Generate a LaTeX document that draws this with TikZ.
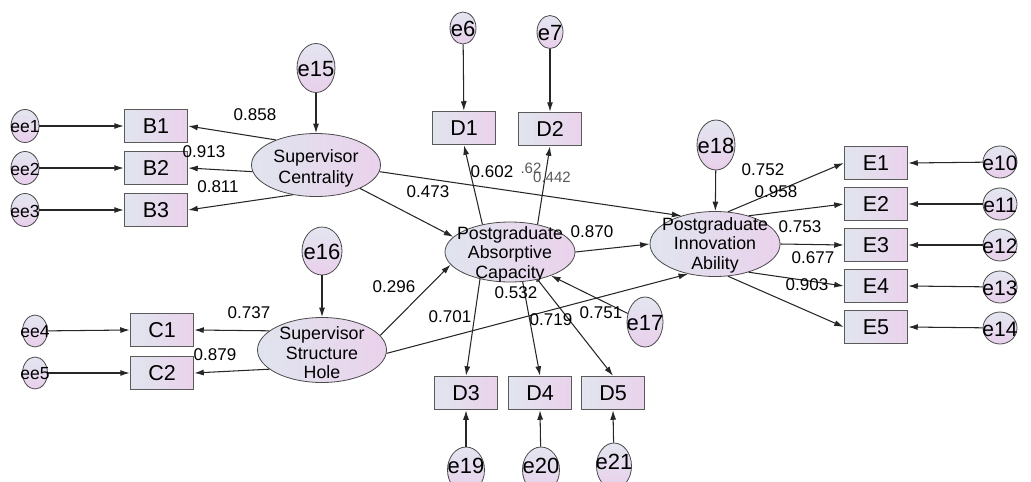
\documentclass[tikz,border=0pt]{standalone}
\usepackage{fontspec}
\setmainfont{Liberation Sans}
\usetikzlibrary{arrows.meta,shapes.geometric}
\definecolor{boxL}{HTML}{E1E5EE}
\definecolor{boxR}{HTML}{EAD2EC}
\definecolor{errT}{HTML}{E3E6F0}
\definecolor{errB}{HTML}{E9CFEB}
\definecolor{latL}{HTML}{E0E4EE}
\definecolor{latR}{HTML}{EAD2EC}
\definecolor{boxline}{HTML}{5A5A5A}
\definecolor{elline}{HTML}{4A4A4A}
\definecolor{lncol}{HTML}{262626}
\begin{document}
\begin{tikzpicture}[x=1pt,y=-1pt,
  obs/.style={draw=boxline, line width=1.5pt, left color=boxL, right color=boxR,
    minimum width=63pt, minimum height=33pt, inner sep=0pt, font=\fontsize{21.5}{25}\selectfont},
  err/.style={ellipse, draw=elline, line width=0.8pt, top color=errT, bottom color=errB, inner sep=0pt},
  errtxt/.style={inner sep=0pt, font=\fontsize{22}{26}\selectfont},
  eetxt/.style={inner sep=0pt, font=\fontsize{17.5}{20}\selectfont},
  lat/.style={ellipse, draw=elline, line width=0.8pt, left color=latL, right color=latR,
    minimum width=129pt, minimum height=63pt, inner sep=0pt},
  lattxt/.style={inner sep=0pt, align=center, font=\fontsize{17.8}{19.5}\selectfont},
  arr/.style={draw=lncol, line width=1.05pt, -{Latex[length=9.5pt,width=6pt]}},
  coef/.style={inner sep=0pt, font=\fontsize{17}{20}\selectfont},
  gcoef/.style={inner sep=0pt, text=black!65, font=\fontsize{15}{18}\selectfont},
]
\useasboundingbox (0,0) rectangle (1031,482);

% ---------- left error terms ----------
\node[err, minimum width=28pt, minimum height=33pt] (ee1) at (25,126) {};
\node[err, minimum width=28pt, minimum height=33pt] (ee2) at (25,168) {};
\node[err, minimum width=28pt, minimum height=33pt] (ee3) at (25,210) {};
\node[err, minimum width=25pt, minimum height=32pt] (ee4) at (35,331) {};
\node[err, minimum width=25pt, minimum height=32pt] (ee5) at (35,373) {};
\node[eetxt] (ee1t) at (25,127) {ee1};
\node[eetxt] (ee2t) at (25,169) {ee2};
\node[eetxt] (ee3t) at (25,211) {ee3};
\node[eetxt] (ee4t) at (35,332) {ee4};
\node[eetxt] (ee5t) at (35,374) {ee5};

% ---------- observed boxes ----------
\node[obs] (B1) at (156,126) {B1};
\node[obs] (B2) at (156,168) {B2};
\node[obs] (B3) at (156,210) {B3};
\node[obs] (C1) at (162,330) {C1};
\node[obs] (C2) at (162,373) {C2};
\node[obs] (D1) at (464,128) {D1};
\node[obs] (D2) at (550,129) {D2};
\node[obs] (D3) at (466,393) {D3};
\node[obs] (D4) at (540,393) {D4};
\node[obs] (D5) at (613,393) {D5};
\node[obs] (E1) at (876,163) {E1};
\node[obs] (E2) at (876,204) {E2};
\node[obs] (E3) at (876,245) {E3};
\node[obs] (E4) at (876,286) {E4};
\node[obs] (E5) at (876,327) {E5};

% ---------- latent variables ----------
\node[lat] (SC) at (316,165) {};
\node[lat, minimum height=65pt] (SSH) at (322,350) {};
\node[lat, minimum width=130pt, minimum height=60pt] (PAC) at (510,252) {};
\node[lat, minimum width=130pt, minimum height=65pt] (PIA) at (715,244) {};
\node[lattxt, font=\fontsize{17.8}{21}\selectfont] (SCt) at (316,168) {Supervisor\\Centrality};
\node[lattxt] (SSHt) at (322,353) {Supervisor\\Structure\\Hole};
\node[lattxt] (PACt) at (510,254) {Postgraduate\\Absorptive\\Capacity};
\node[lattxt] (PIAt) at (715,245) {Postgraduate\\Innovation\\Ability};

% ---------- other error terms ----------
\node[err, minimum width=38pt, minimum height=49pt] (e15) at (316,68) {};
\node[err, minimum width=40pt, minimum height=48pt] (e16) at (322,251) {};
\node[err, minimum width=26pt, minimum height=32pt] (e6) at (463,28) {};
\node[err, minimum width=26pt, minimum height=33pt] (e7) at (550,32) {};
\node[err, minimum width=38pt, minimum height=50pt] (e18) at (716,145) {};
\node[err, minimum width=36pt, minimum height=50pt] (e17) at (645,322) {};
\node[err, minimum width=37pt, minimum height=46pt] (e19) at (466,470) {};
\node[err, minimum width=37pt, minimum height=46pt] (e20) at (541,470) {};
\node[err, minimum width=35pt, minimum height=46pt] (e21) at (614,466) {};
\node[err, minimum width=34pt, minimum height=32pt] (e10) at (1000,162) {};
\node[err, minimum width=34pt, minimum height=32pt] (e11) at (1000,204) {};
\node[err, minimum width=34pt, minimum height=32pt] (e12) at (1000,245) {};
\node[err, minimum width=34pt, minimum height=32pt] (e13) at (1000,287) {};
\node[err, minimum width=34pt, minimum height=32pt] (e14) at (1000,328) {};
\node[errtxt] (e15t) at (316,69) {e15};
\node[errtxt] (e16t) at (322,252) {e16};
\node[errtxt] (e6t) at (463,29) {e6};
\node[errtxt] (e7t) at (550,33) {e7};
\node[errtxt] (e18t) at (716,146) {e18};
\node[errtxt] (e17t) at (645,323) {e17};
\node[errtxt] (e19t) at (466,466) {e19};
\node[errtxt] (e20t) at (541,466) {e20};
\node[errtxt] (e21t) at (614,462) {e21};
\node[errtxt, font=\fontsize{21}{24}\selectfont] (e10t) at (1000,163) {e10};
\node[errtxt, font=\fontsize{21}{24}\selectfont] (e11t) at (1000,205) {e11};
\node[errtxt, font=\fontsize{21}{24}\selectfont] (e12t) at (1000,246) {e12};
\node[errtxt, font=\fontsize{21}{24}\selectfont] (e13t) at (1000,288) {e13};
\node[errtxt, font=\fontsize{21}{24}\selectfont] (e14t) at (1000,329) {e14};

% ---------- connectors ----------
\draw[arr] (ee1) -- (B1.west);
\draw[arr] (ee2) -- (B2.west);
\draw[arr] (ee3) -- (B3.west);
\draw[arr] (ee4) -- (C1.west);
\draw[arr] (ee5) -- (C2.west);
\draw[arr] (SC.148) -- (B1.east);
\draw[arr] (SC.186) -- (B2.east);
\draw[arr] (SC.232) -- (B3.east);
\draw[arr] (e15) -- (SC);
\draw[arr] (SC.-28) -- (PAC.165);
\draw[arr] (SC.-6) -- (PIA.140);
\draw[arr] (SSH.160) -- (C1.east);
\draw[arr] (SSH.200) -- (C2.east);
\draw[arr] (e16) -- (SSH);
\draw[arr] (SSH.14) -- (PAC.192);
\draw[arr] (SSH.-3) -- (PIA.228);
\draw[arr] (e6) -- (D1);
\draw[arr] (e7) -- (D2);
\draw[arr] (PAC.135) -- (D1.south);
\draw[arr] (PAC.45) -- (D2.south);
\draw[arr] (PAC.222) -- (D3.north);
\draw[arr] (PAC.293) -- (D4.north);
\draw[arr] (PAC.-45) -- (D5.north);
\draw[arr] (e19) -- (D3.south);
\draw[arr] (e20) -- (D4.south);
\draw[arr] (e21) -- (D5.south);
\draw[arr] (e17) -- (PAC.-30);
\draw[arr] (PAC.east) -- (PIA.west);
\draw[arr] (e18) -- (PIA);
\draw[arr] (PIA.68) -- (E1.west);
\draw[arr] (PIA.40) -- (E2.west);
\draw[arr] (PIA.east) -- (E3.west);
\draw[arr] (PIA.-40) -- (E4.west);
\draw[arr] (PIA.-68) -- (E5.west);
\draw[arr] (e10) -- (E1.east);
\draw[arr] (e11) -- (E2.east);
\draw[arr] (e12) -- (E3.east);
\draw[arr] (e13) -- (E4.east);
\draw[arr] (e14) -- (E5.east);

% ---------- coefficients ----------
\node[coef] (c1) at (255,115) {0.858};
\node[coef] (c2) at (204,152) {0.913};
\node[coef] (c3) at (218,187) {0.811};
\node[coef] (c4) at (428,192) {0.473};
\node[coef] (c5) at (492,172) {0.602};
\node[gcoef] (c6) at (531,168) {.62};
\node[gcoef] (c7) at (552,177) {0.442};
\node[coef] (c8) at (394,287) {0.296};
\node[coef] (c9) at (249,313) {0.737};
\node[coef] (c10) at (215,355) {0.879};
\node[coef] (c11) at (592,232) {0.870};
\node[coef] (c12) at (516,293) {0.532};
\node[coef] (c13) at (450,317) {0.701};
\node[coef] (c14) at (551,320) {0.719};
\node[coef] (c15) at (601,313) {0.751};
\node[coef] (c16) at (763,170) {0.752};
\node[coef] (c17) at (776,192) {0.958};
\node[coef] (c18) at (800,227) {0.753};
\node[coef] (c19) at (813,258) {0.677};
\node[coef] (c20) at (807,285) {0.903};
\end{tikzpicture}
\end{document}
